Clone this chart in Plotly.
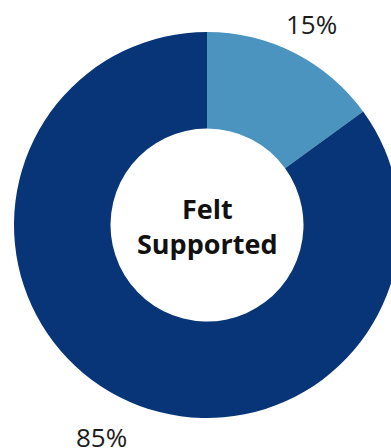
import plotly.graph_objects as go

# Share of respondents who felt supported
labels = ["Did not feel supported", "Felt supported"]
values = [15, 85]
colors = ["#4A94BF", "#083577"]
center_lines = ["Felt", "Supported"]

W, H = 410, 448

fig = go.Figure(
    go.Pie(
        labels=labels,
        values=values,
        hole=0.5,
        sort=False,
        direction="clockwise",
        rotation=0,
        marker=dict(colors=colors, line=dict(width=0)),
        textinfo="none",
        hoverinfo="label+percent",
        showlegend=False,
        domain=dict(x=[14 / W, 400 / W], y=[1 - 418 / H, 1 - 32 / H]),
    )
)

total = sum(values)
pct = [f"{round(v / total * 100)}%" for v in values]

annotations = [
    dict(text=pct[0], x=311 / W, y=1 - 24 / H),
    dict(text=pct[1], x=101 / W, y=1 - 436.5 / H),
]
for a in annotations:
    a.update(xref="paper", yref="paper", xanchor="center", yanchor="middle",
             showarrow=False, font=dict(family="Open Sans", size=26, color="#1c1c1c"))

for txt, py in zip(center_lines, [208.5, 243.5]):
    annotations.append(dict(
        text=f"<b>{txt}</b>", x=207 / W, y=1 - py / H, xref="paper", yref="paper",
        xanchor="center", yanchor="middle", showarrow=False,
        font=dict(family="Open Sans", size=27, color="#111111"),
    ))

fig.update_layout(
    width=W,
    height=H,
    margin=dict(l=0, r=0, t=0, b=0),
    paper_bgcolor="white",
    plot_bgcolor="white",
    annotations=annotations,
)

fig.write_html(
    "out.html",
    post_script=(
        "document.documentElement.style.overflow='hidden';"
        "document.body.style.overflow='hidden';"
        "document.body.style.margin='0';"
    ),
)
